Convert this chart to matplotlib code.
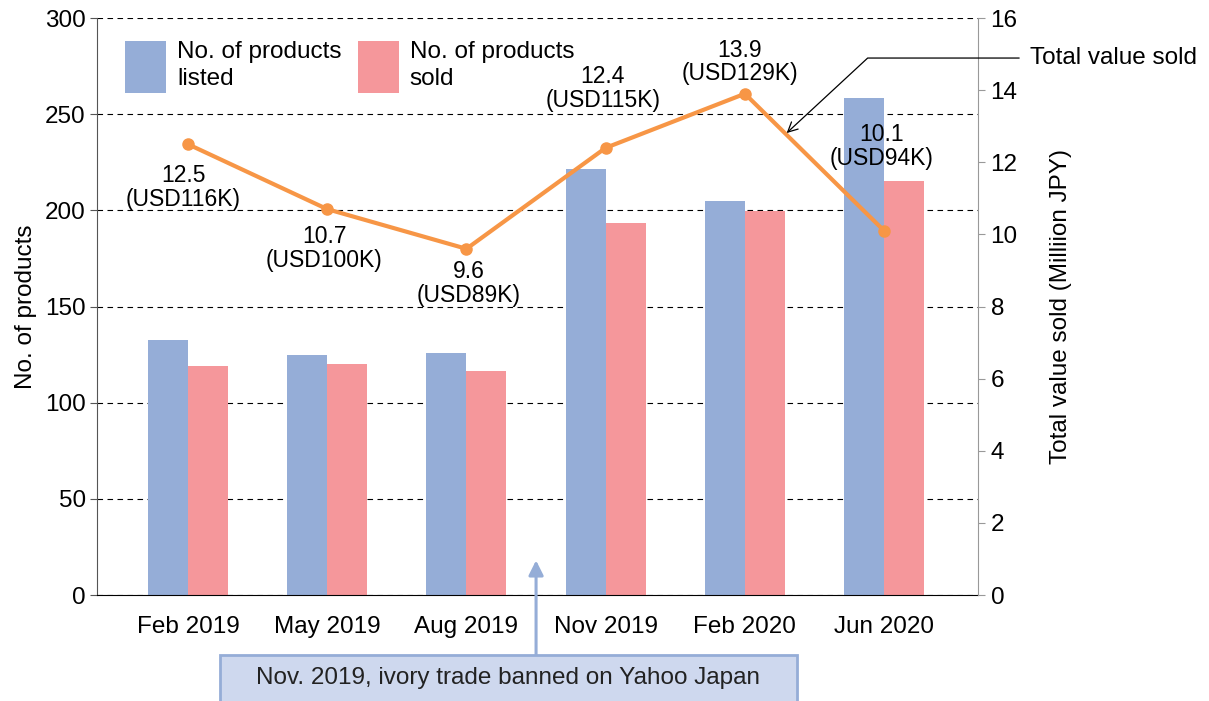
import matplotlib
matplotlib.use("Agg")
import matplotlib.pyplot as plt
import numpy as np
from matplotlib.patches import Rectangle

plt.rcParams['font.family'] = ['Liberation Sans', 'DejaVu Sans']

categories = ["Feb 2019", "May 2019", "Aug 2019", "Nov 2019", "Feb 2020", "Jun 2020"]
listed = [132.5, 125, 126, 221.5, 205, 258.5]
sold = [119, 120, 116.5, 193.5, 199.5, 215.5]
value_jpy = [12.5, 10.7, 9.6, 12.4, 13.9, 10.1]
value_usd = ["USD116K", "USD100K", "USD89K", "USD115K", "USD129K", "USD94K"]

# label placement (offset in points from marker: dx, dy); negative dy = below
label_offsets = [(-3.5, -14), (-2, -11.5), (1.5, -8), (-2, 26), (-3.5, 6), (-2, 44)]

BLUE = "#95ADD7"
PINK = "#F5979B"
ORANGE = "#F79646"
FS = 17.5
FS_LBL = 16.5

fig = plt.figure(figsize=(12.09, 7.01), dpi=100)
ax = fig.add_axes([0.0802, 0.1512, 0.7288, 0.8231])
ax2 = ax.twinx()

x = np.arange(len(categories))
w = 0.287
ax.bar(x - w / 2, listed, width=w, color=BLUE, label="No. of products\nlisted", zorder=2)
ax.bar(x + w / 2, sold, width=w, color=PINK, label="No. of products\nsold", zorder=2)

ax.set_xlim(-0.654, 5.675)
ax.set_ylim(0, 300)
ax.set_yticks(range(0, 301, 50))
ax.set_xticks(x)
ax.set_xticklabels(categories, fontsize=FS)
ax.tick_params(axis='x', length=0, pad=15)
ax.tick_params(axis='y', labelsize=FS, direction='out', length=5, color='#555555', pad=3)
ax.yaxis.grid(True, linestyle=(0, (5, 4)), color='black', linewidth=0.8, zorder=0)
ax.set_axisbelow(True)
ax.set_ylabel("No. of products", fontsize=FS, labelpad=6)
ax.spines['top'].set_visible(False)
ax.spines['left'].set_color('#555555')
ax.spines['bottom'].set_color('black')
ax.spines['right'].set_visible(False)

ax2.plot(x, value_jpy, color=ORANGE, lw=3, marker='o', markersize=8, zorder=3)
ax2.set_ylim(0, 16)
ax2.set_yticks(range(0, 17, 2))
ax2.tick_params(axis='y', labelsize=FS, direction='out', length=5, color='#999999', pad=4)
ax2.set_ylabel("Total value sold (Milliion JPY)", fontsize=FS, labelpad=23)
ax2.spines['top'].set_visible(False)
ax2.spines['left'].set_visible(False)
ax2.spines['bottom'].set_visible(False)
ax2.spines['right'].set_color('#999999')

for xi, v, u, (dx, dy) in zip(x, value_jpy, value_usd, label_offsets):
    ax2.annotate(f"{v}\n({u})", xy=(xi, v), xytext=(dx, dy), textcoords='offset points',
                 ha='center', va='top' if dy < 0 else 'bottom', fontsize=FS_LBL,
                 linespacing=1.05)

leg = ax.legend(loc='upper left', bbox_to_anchor=(28 / 881, (595 - 41) / 577), ncol=2,
                frameon=False, fontsize=FS, handlelength=1.69, handleheight=2.915,
                handletextpad=0.45, columnspacing=0.66, borderpad=0, borderaxespad=0)
for t in leg.get_texts():
    t.set_linespacing(1.3)

# "Total value sold" callout
ax2.annotate("Total value sold", xy=(4.30, 12.81), xytext=(6.05, 14.89),
             textcoords='data', ha='left', va='center', fontsize=FS,
             annotation_clip=False,
             arrowprops=dict(arrowstyle='->', color='black', lw=0.9,
                             connectionstyle='angle,angleA=0,angleB=42.8,rad=0',
                             shrinkA=6, shrinkB=0))

# Bottom note with arrow
ax.annotate('', xy=(2.5, 18), xytext=(2.5, -31.5), xycoords='data', textcoords='data',
            annotation_clip=False,
            arrowprops=dict(arrowstyle='-|>', color='#95ADD7', lw=2.2, mutation_scale=22,
                            shrinkA=0, shrinkB=0))
fig.patches.append(Rectangle((220 / 1209, -0.02), (797 - 220) / 1209, (0.02 + (701 - 655) / 701),
                             transform=fig.transFigure, facecolor='#CED8EE', edgecolor='#95ADD7',
                             lw=2, zorder=5))
fig.text(508 / 1209, 1 - 678 / 701, "Nov. 2019, ivory trade banned on Yahoo Japan",
         ha='center', va='center', fontsize=FS, color='#222222', zorder=6)

fig.savefig("out.png", dpi=100)
